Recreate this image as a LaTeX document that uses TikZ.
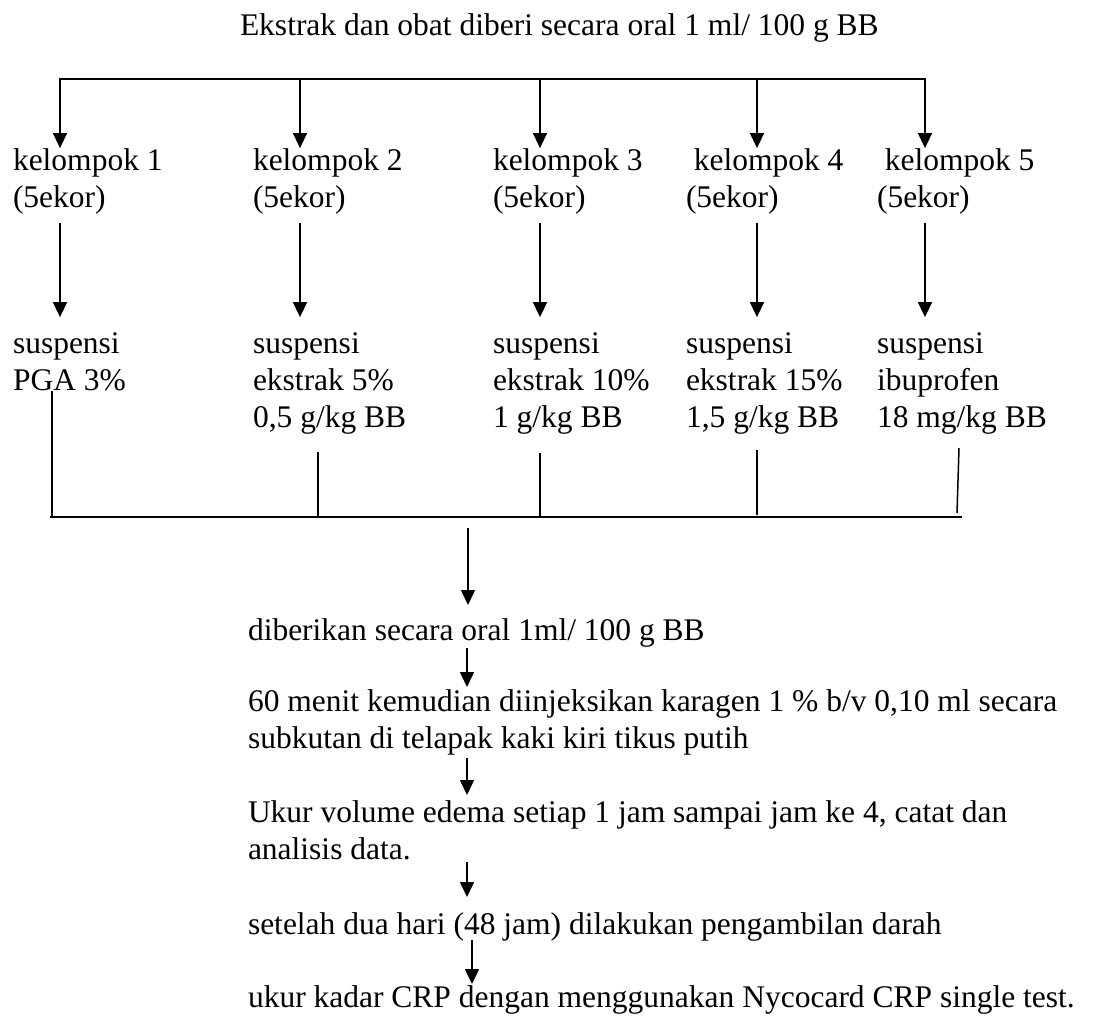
\documentclass[tikz,border=0pt]{standalone}
\usepackage{fontspec}
\setmainfont{Liberation Serif}
\usetikzlibrary{arrows.meta}
\newcommand{\mlines}[1]{\begin{tabular}[t]{@{}l@{}}#1\end{tabular}}
\begin{document}
\begin{tikzpicture}[x=1pt,y=-1pt,
  txt/.style={inner sep=0pt, outer sep=0pt, anchor=base west, font=\fontsize{31.5}{37}\selectfont},
  arr/.style={-{Triangle[width=14pt,length=15pt]}, line width=1.5pt},
  ln/.style={line width=1.5pt}]
\useasboundingbox (0,0) rectangle (1097,1018);
% title
\node[txt] (title) at (240,35) {Ekstrak dan obat diberi secara oral 1 ml/ 100 g BB};
% top bus
\coordinate (t1) at (60,79);
\coordinate (t2) at (300,79);
\coordinate (t3) at (540,79);
\coordinate (t4) at (757,79);
\coordinate (t5) at (925,79);
\draw[line width=2.3pt] ([xshift=-0.75pt]t1) -- ([xshift=0.75pt]t5);
% groups
\node[txt] (k1) at (13,170) {\mlines{kelompok 1\\(5ekor)}};
\node[txt] (k2) at (253,170) {\mlines{kelompok 2\\(5ekor)}};
\node[txt] (k3) at (493,170) {\mlines{kelompok 3\\(5ekor)}};
\node[txt] (k4) at (686,170) {\mlines{\ kelompok 4\\(5ekor)}};
\node[txt] (k5) at (877,170) {\mlines{\ kelompok 5\\(5ekor)}};
\foreach \i in {1,...,5}{
  \draw[arr, shorten >=-4pt] (t\i) -- (t\i |- k\i.north);
}
% treatments
\node[txt] (s1) at (13,353) {\mlines{suspensi\\PGA 3\%}};
\node[txt] (s2) at (253,353) {\mlines{suspensi\\ekstrak 5\%\\0,5 g/kg BB}};
\node[txt] (s3) at (493,353) {\mlines{suspensi\\ekstrak 10\%\\1 g/kg BB}};
\node[txt] (s4) at (686,353) {\mlines{suspensi\\ekstrak 15\%\\1,5 g/kg BB}};
\node[txt] (s5) at (877,353) {\mlines{suspensi\\ibuprofen\\18 mg/kg BB}};
\foreach \i in {1,...,5}{
  \draw[arr, shorten <=5pt, shorten >=10pt] (t\i |- k\i.south) -- (t\i |- s\i.north);
}
% bottom bus
\coordinate (u1) at (52,391);
\coordinate (u2) at (318,452);
\coordinate (u3) at (540,453);
\coordinate (u4) at (757,450);
\coordinate (u5) at (959,448);
\coordinate (b1) at (52,517);
\coordinate (b2) at (318,517);
\coordinate (b3) at (540,517);
\coordinate (b4) at (757,515);
\coordinate (b5) at (957,513);
\coordinate (bl) at (50,517);
\coordinate (br) at (962,517);
\foreach \i in {1,...,5}{ \draw[ln] (u\i) -- (b\i); }
\draw[line width=2pt] (bl) -- (br);
% procedure chain
\node[txt] (p1) at (248,640) {diberikan secara oral 1ml/ 100 g BB};
\node[txt] (p2) at (248,711) {\mlines{60 menit kemudian diinjeksikan karagen 1 \% b/v 0,10 ml secara\\subkutan di telapak kaki kiri tikus putih}};
\node[txt] (p3) at (248,822) {\mlines{Ukur volume edema setiap 1 jam sampai jam ke 4, catat dan\\analisis data.}};
\node[txt] (p4) at (248,934) {setelah dua hari (48 jam) dilakukan pengambilan darah};
\node[txt] (p5) at (248,1007) {ukur kadar CRP dengan menggunakan Nycocard CRP single test.};
\coordinate (a0) at (468,528);
\coordinate (a1) at (467,648);
\coordinate (a2) at (467,758);
\coordinate (a3) at (467,862);
\coordinate (a4) at (472,940);
\draw[arr] (a0) -- (a0 |- 0,605);
\draw[arr] (a1) -- (a1 |- 0,687);
\draw[arr] (a2) -- (a2 |- 0,795);
\draw[arr] (a3) -- (a3 |- 0,897);
\draw[arr] (a4) -- (a4 |- 0,984);
\end{tikzpicture}
\end{document}
